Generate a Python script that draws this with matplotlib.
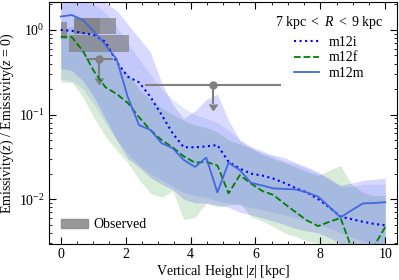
import numpy as np
import matplotlib
matplotlib.use("Agg")
import matplotlib.pyplot as plt
from matplotlib.patches import Patch

plt.rcParams['font.family'] = ['Liberation Serif', 'DejaVu Serif']
plt.rcParams['mathtext.fontset'] = 'custom'
plt.rcParams['mathtext.rm'] = 'Liberation Serif'
plt.rcParams['mathtext.it'] = 'Liberation Serif:italic'
plt.rcParams['font.size'] = 10

# vertical height grid [kpc]
z = np.linspace(0, 10, 30)

# median profiles, normalised to z = 0
m12i = [1.0, 0.975, 0.92, 0.87, 0.72, 0.42, 0.28, 0.24, 0.163, 0.10,
        0.06, 0.041, 0.041, 0.042, 0.0436, 0.0276, 0.023, 0.020, 0.019, 0.0175,
        0.0155, 0.0135, 0.012, 0.0100, 0.0080, 0.0062, 0.0058, 0.0054, 0.0051, 0.0049]
m12f = [0.83, 0.82, 0.56, 0.32, 0.21, 0.175, 0.137, 0.093, 0.066, 0.050,
        0.041, 0.032, 0.027, 0.0276, 0.025, 0.0117, 0.0192, 0.0153, 0.0125, 0.0112,
        0.0088, 0.0070, 0.0056, 0.0048, 0.0054, 0.0060, 0.0026, 0.0015, 0.0028, 0.0047]
m12m = [1.44, 1.50, 1.30, 0.95, 0.66, 0.45, 0.16, 0.075, 0.066, 0.046,
        0.040, 0.029, 0.024, 0.031, 0.012, 0.027, 0.022, 0.0156, 0.0145, 0.0134,
        0.0132, 0.0130, 0.0120, 0.0107, 0.0081, 0.0061, 0.0074, 0.0089, 0.0090, 0.0092]

# scatter ranges
m12i_lo = [0.35, 0.33, 0.25, 0.16, 0.09, 0.05, 0.03, 0.024, 0.018, 0.015,
           0.013, 0.010, 0.009, 0.009, 0.0085, 0.008, 0.007, 0.0065, 0.006, 0.0055,
           0.005, 0.0045, 0.0042, 0.004, 0.0035, 0.003, 0.0028, 0.0026, 0.0025, 0.0024]
m12i_hi = [2.2, 2.2, 2.2, 2.2, 2.1, 1.7, 1.17, 0.8, 0.55, 0.24,
           0.13, 0.09, 0.11, 0.15, 0.175, 0.085, 0.05, 0.042, 0.037, 0.033,
           0.031, 0.027, 0.024, 0.021, 0.017, 0.0146, 0.0155, 0.0168, 0.0172, 0.0176]
m12f_lo = [0.24, 0.24, 0.16, 0.09, 0.055, 0.038, 0.027, 0.017, 0.0118, 0.0105,
           0.0125, 0.0057, 0.0061, 0.0089, 0.0081, 0.0085, 0.0089, 0.0062, 0.0055, 0.0047,
           0.0040, 0.0036, 0.0032, 0.0030, 0.0025, 0.0022, 0.002, 0.002, 0.002, 0.002]
m12f_hi = [1.0, 1.1, 1.1, 0.9, 0.6, 0.42, 0.30, 0.20, 0.15, 0.12,
           0.10, 0.085, 0.075, 0.07, 0.062, 0.05, 0.045, 0.04, 0.034, 0.030,
           0.027, 0.024, 0.021, 0.019, 0.022, 0.025, 0.015, 0.012, 0.011, 0.011]
m12m_lo = [0.26, 0.25, 0.2, 0.13, 0.08, 0.05, 0.035, 0.025, 0.02, 0.017,
           0.014, 0.012, 0.011, 0.0105, 0.0095, 0.009, 0.0085, 0.008, 0.0075, 0.007,
           0.0065, 0.006, 0.0055, 0.005, 0.0045, 0.004, 0.0036, 0.0032, 0.003, 0.0028]
m12m_hi = [2.0, 2.2, 2.2, 2.0, 1.6, 1.1, 0.7, 0.45, 0.30, 0.20,
           0.15, 0.12, 0.10, 0.09, 0.08, 0.065, 0.05, 0.04, 0.035, 0.032,
           0.028, 0.026, 0.023, 0.020, 0.018, 0.014, 0.014, 0.015, 0.015, 0.015]

# observed boxes: (z0, z1, y0, y1)
obs_boxes = [(0.0, 0.2, 0.78, 1.25),
             (0.4, 1.7, 0.89, 1.37),
             (0.25, 2.1, 0.55, 0.87),
             (0.4, 1.2, 0.90, 1.40)]
# observed upper limits
lim_z = [1.19, 4.70]
lim_zerr = [0.41, 2.1]
lim_y = [0.45, 0.223]

fig = plt.figure(figsize=(3.99, 2.80), dpi=100)
ax = fig.add_axes([0.1228, 0.1286, 0.8722, 0.8644])

a = 0.15
ax.fill_between(z, m12f_lo, m12f_hi, color='green', alpha=a, lw=0)
ax.fill_between(z, m12i_lo, m12i_hi, color='blue', alpha=a, lw=0)
ax.fill_between(z, m12m_lo, m12m_hi, color='royalblue', alpha=a, lw=0)

for z0, z1, y0, y1 in obs_boxes:
    ax.fill_between([z0, z1], [y0, y0], [y1, y1], color='grey', alpha=0.7, lw=0)

for zz, ze, yy in zip(lim_z, lim_zerr, lim_y):
    ax.errorbar(zz, yy, xerr=ze, yerr=yy * 0.4, uplims=True, fmt='o', color='grey',
                ms=5, lw=1.5, capsize=0)

l1, = ax.plot(z, m12i, color='blue', ls=':', lw=1.5, label='m12i')
l2, = ax.plot(z, m12f, color='green', ls='--', lw=1.3, label='m12f')
l3, = ax.plot(z, m12m, color='royalblue', ls='-', lw=1.3, label='m12m')

ax.set_yscale('log')
ax.set_xlim(-0.36, 10.36)
ax.set_ylim(2.95e-3, 2.14)
ax.set_xlabel(r'Vertical Height $|z|$ [kpc]', labelpad=1)
ax.set_ylabel(r'Emissivity($z$) / Emissivity($z$ = 0)', labelpad=2)
ax.set_xticks([0, 2, 4, 6, 8, 10])
ax.set_xticks(np.arange(0, 10.01, 0.5), minor=True)
ax.tick_params(which='both', direction='in', top=True, right=True)
ax.tick_params(which='major', length=5, pad=3)
ax.tick_params(which='minor', length=2.5)

leg1 = ax.legend(handles=[l1, l2, l3], loc='upper right', frameon=False,
                 title=r'7 kpc $<$ $R$ $<$ 9 kpc', handlelength=1.8,
                 labelspacing=0.2, borderaxespad=0.6, handletextpad=0.7)
leg1.get_title().set_position((0, 2))
ax.add_artist(leg1)
ax.legend(handles=[Patch(color='grey', alpha=0.8, label='Observed')],
          loc='lower left', frameon=False, handlelength=1.9, borderaxespad=0.5,
          handletextpad=0.4)

fig.savefig('out.png', dpi=100)
